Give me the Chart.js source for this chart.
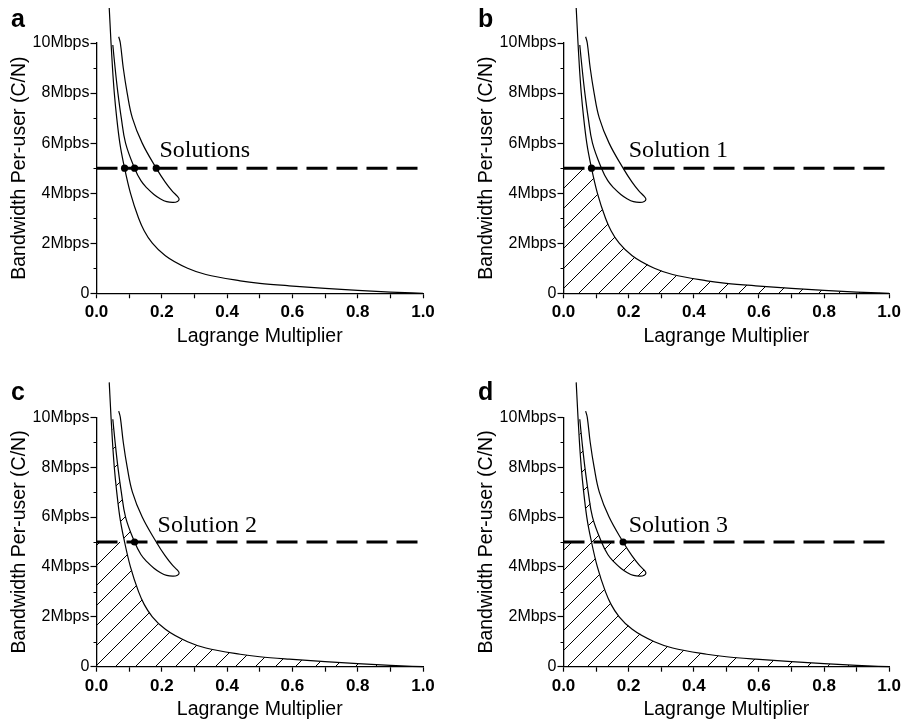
<!DOCTYPE html>
<html>
<head>
<meta charset="utf-8">
<title>Lagrange multiplier solutions</title>
<script src="https://cdn.jsdelivr.net/npm/chart.js@4.4.1/dist/chart.umd.min.js"></script>
<style>
  html, body { margin: 0; padding: 0; background: #fff; }
  canvas { position: absolute; }
</style>
</head>
<body>
<canvas id="a" width="452" height="362" style="left:0;top:0"></canvas>
<canvas id="b" width="453" height="362" style="left:452px;top:0"></canvas>
<canvas id="c" width="452" height="363" style="left:0;top:362px"></canvas>
<canvas id="d" width="453" height="363" style="left:452px;top:362px"></canvas>
<script>
{
  'use strict';

  /* Data */
  const mainX = [0.039, 0.0445, 0.049, 0.0545, 0.062, 0.0715, 0.086, 0.104, 0.129, 0.146, 0.171, 0.211, 0.279, 0.335, 0.44, 0.5, 0.59, 0.7, 0.8, 0.9, 1.0];
  const mainY = [11.4, 10, 9, 8, 7, 6, 5, 4, 3, 2.5, 2, 1.5, 1, 0.75, 0.5, 0.4, 0.3, 0.2, 0.12, 0.05, 0];

  const loopX = [0.05, 0.057, 0.0656, 0.076, 0.089, 0.1166, 0.136, 0.155, 0.176, 0.195, 0.215, 0.235, 0.248, 0.253, 0.248, 0.232, 0.21, 0.183, 0.14, 0.11, 0.094, 0.082, 0.073, 0.068];
  const loopY = [9.92, 9, 8, 7, 6, 5, 4.5, 4.2, 3.95, 3.78, 3.66, 3.63, 3.67, 3.76, 3.87, 4.08, 4.45, 5, 6, 7, 8, 9, 10, 10.25];

  const target = 5;
  const solutionX = [0.086, 0.1166, 0.183];

  const xTickLabels = ['0.0', '0.2', '0.4', '0.6', '0.8', '1.0'];
  const yTickLabels = ['0', '2Mbps', '4Mbps', '6Mpbs', '8Mbps', '10Mbps'];
  const minorY = [1, 3, 5, 7, 9];

  function points(xs, ys) {
    return xs.map(function (x, i) {
      return {x: x, y: ys[i]};
    });
  }

  const mainCurve = points(mainX, mainY);
  const loopCurve = points(loopX, loopY);

  /* Hatched regions */
  // below the target line and under the lower curve
  const areaBelow = [{x: 0, y: target}].concat(mainCurve.filter(p => p.y <= target));
  // thin strip between the two curves, above the target line
  const strip = mainCurve.filter(p => p.y >= target && p.y < loopY[0])
    .concat(loopCurve.slice(0, loopY.indexOf(target) + 1).reverse());
  // inside of the loop, below the target line
  const loopArea = loopCurve.slice(loopY.indexOf(target), loopY.lastIndexOf(target) + 1);

  const regions = {below: areaBelow, strip: strip, loop: loopArea};

  const panels = [
    {id: 'a', note: 'Solutions', noteAt: [0.193, 5.45], dots: [0, 1, 2], hatch: [],
      letterAt: [11, 27], pad: {left: 4, top: 43, right: 29, bottom: 10}, xHeight: 58.7},
    {id: 'b', note: 'Solution 1', noteAt: [0.2, 5.45], dots: [0], hatch: ['below'],
      letterAt: [26, 27], pad: {left: 19, top: 43, right: 15, bottom: 10}, xHeight: 58.7},
    {id: 'c', note: 'Solution 2', noteAt: [0.187, 5.4], dots: [1], hatch: ['below', 'strip'],
      letterAt: [11, 38], pad: {left: 4, top: 55.3, right: 29, bottom: 0}, xHeight: 58.3},
    {id: 'd', note: 'Solution 3', noteAt: [0.2, 5.4], dots: [2], hatch: ['below', 'strip', 'loop'],
      letterAt: [26, 38], pad: {left: 19, top: 55.3, right: 15, bottom: 0}, xHeight: 58.3}
  ];

  /* Hatch pattern */
  function makeHatch(ctx) {
    const tile = document.createElement('canvas');
    tile.width = 20;
    tile.height = 20;
    const g = tile.getContext('2d');
    g.strokeStyle = '#000';
    g.lineWidth = 1;
    g.beginPath();
    g.moveTo(0, 20);
    g.lineTo(20, 0);
    g.moveTo(-2, 2);
    g.lineTo(2, -2);
    g.moveTo(18, 22);
    g.lineTo(22, 18);
    g.stroke();
    return ctx.createPattern(tile, 'repeat');
  }

  /* Panel letter, note text and minor y ticks */
  const annotate = {
    id: 'annotate',
    afterDraw(chart, args, opts) {
      const {ctx, chartArea, scales: {x, y}} = chart;
      ctx.save();
      ctx.strokeStyle = '#000';
      ctx.lineWidth = 1.2;
      ctx.beginPath();
      for (const v of minorY) {
        const py = Math.round(y.getPixelForValue(v)) + 0.5;
        ctx.moveTo(chartArea.left, py);
        ctx.lineTo(chartArea.left - 3, py);
      }
      ctx.stroke();

      ctx.fillStyle = '#000';
      ctx.textBaseline = 'alphabetic';
      ctx.font = 'bold 25px "Liberation Sans", Arial, sans-serif';
      ctx.fillText(opts.letter, opts.letterAt[0], opts.letterAt[1]);
      ctx.font = '24px "Liberation Serif", "Times New Roman", serif';
      ctx.fillText(opts.note, x.getPixelForValue(opts.noteAt[0]), y.getPixelForValue(opts.noteAt[1]));
      ctx.restore();
    }
  };

  Chart.defaults.font.family = '"Liberation Sans", Arial, sans-serif';
  Chart.defaults.color = '#000';

  function makeChart(panel) {
    const ctx = document.getElementById(panel.id).getContext('2d');
    const pattern = makeHatch(ctx);

    const datasets = [
      {
        data: panel.dots.map(i => ({x: solutionX[i], y: target})),
        showLine: false,
        pointRadius: 3.6,
        pointBackgroundColor: '#000',
        pointBorderWidth: 0
      },
      {
        data: [{x: 0, y: target}, {x: 1, y: target}],
        borderWidth: 3,
        borderDash: [21, 9]
      },
      {
        data: mainCurve,
        cubicInterpolationMode: 'monotone',
        clip: false
      },
      {
        data: loopCurve,
        tension: 0.4,
        clip: false
      }
    ];

    for (const name of panel.hatch) {
      datasets.push({
        data: regions[name],
        borderColor: 'transparent',
        borderWidth: 0,
        backgroundColor: pattern,
        fill: name === 'below' ? 'origin' : 'shape'
      });
    }

    return new Chart(ctx, {
      type: 'line',
      data: {datasets: datasets},
      plugins: [annotate],
      options: {
        responsive: false,
        animation: false,
        layout: {padding: panel.pad},
        elements: {
          point: {radius: 0},
          line: {borderColor: '#000', borderWidth: 1.2, tension: 0}
        },
        plugins: {
          legend: {display: false},
          tooltip: {enabled: false},
          annotate: {letter: panel.id, letterAt: panel.letterAt, note: panel.note, noteAt: panel.noteAt}
        },
        scales: {
          x: {
            type: 'linear',
            min: 0,
            max: 1,
            afterFit: function (scale) {
              scale.height = panel.xHeight;
            },
            border: {color: '#000', width: 1.3},
            grid: {drawOnChartArea: false, color: '#000', tickLength: 5, tickWidth: 1.2},
            ticks: {
              stepSize: 0.1,
              autoSkip: false,
              maxRotation: 0,
              padding: 4,
              font: {size: 17, weight: 'bold'},
              callback: (v, i) => (i % 2 ? '' : xTickLabels[i / 2])
            },
            title: {
              display: true,
              text: 'Lagrange Multiplier',
              font: {size: 19.5},
              padding: {top: 0, bottom: 4}
            }
          },
          y: {
            type: 'linear',
            min: 0,
            max: 10,
            afterFit: function (scale) {
              scale.width = 92.5;
            },
            border: {color: '#000', width: 1.3},
            grid: {drawOnChartArea: false, color: '#000', tickLength: 6, tickWidth: 1.2},
            ticks: {
              stepSize: 2,
              padding: 1,
              font: {size: 16},
              callback: (v, i) => yTickLabels[i]
            },
            title: {
              display: true,
              text: 'Bandwidth Per-user (C/N)',
              font: {size: 19.5},
              padding: {top: 4, bottom: 0}
            }
          }
        }
      }
    });
  }

  for (const panel of panels) {
    makeChart(panel);
  }
}
</script>
</body>
</html>
